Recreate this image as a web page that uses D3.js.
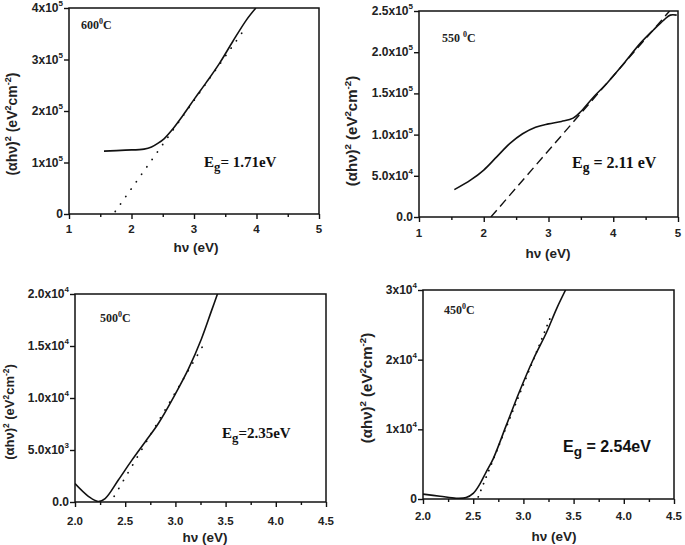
<!DOCTYPE html>
<html><head><meta charset="utf-8">
<script src="https://cdn.jsdelivr.net/npm/d3@7"></script>
<style>body{margin:0;background:#fff}svg{display:block}</style>
</head><body>
<svg id="c" width="685" height="545"></svg>
<script>
// ---- data ----
const p600X = [1.56, 1.9, 2.2, 2.32, 2.42, 2.52, 2.64, 2.82, 3.01, 3.20, 3.41, 3.62, 3.84, 3.99];
const p600Y = [1.22e5, 1.24e5, 1.26e5, 1.30e5, 1.37e5, 1.46e5, 1.62e5, 1.91e5, 2.24e5, 2.56e5, 2.93e5, 3.35e5, 3.77e5, 4.0e5];
const p600FitX = [1.74, 3.81];
const p600FitY = [0.05e5, 3.59e5];

const p550X = [1.546, 1.8, 2.0, 2.2, 2.4, 2.6, 2.8, 3.0, 3.2, 3.38, 3.5, 3.7, 3.9, 4.16, 4.42, 4.62, 4.78, 4.88, 4.98];
const p550Y = [3.32e4, 4.5e4, 5.7e4, 7.3e4, 8.9e4, 10.1e4, 10.9e4, 11.3e4, 11.6e4, 12.0e4, 12.8e4, 14.6e4, 16.2e4, 18.6e4, 21.1e4, 22.7e4, 23.9e4, 24.5e4, 24.5e4];
const p550FitX = [2.11, 4.87];
const p550FitY = [0, 2.5e5];

const p500X = [2.0, 2.133, 2.23, 2.30, 2.43, 2.565, 2.70, 2.83, 3.0, 3.13, 3.26, 3.36, 3.43];
const p500Y = [1.77e3, 0.55e3, 0.05e3, 0.33e3, 2.09e3, 4.0e3, 5.8e3, 7.55e3, 1.04e4, 1.28e4, 1.57e4, 1.84e4, 2.03e4];
const p500FitX = [2.39, 3.31];
const p500FitY = [0.55e3, 1.56e4];

const p450X = [2.0, 2.17, 2.33, 2.43, 2.50, 2.56, 2.63, 2.70, 2.83, 2.96, 3.10, 3.23, 3.33, 3.42];
const p450Y = [0.07e4, 0.04e4, 0.01e4, 0.02e4, 0.08e4, 0.2e4, 0.39e4, 0.58e4, 1.06e4, 1.54e4, 2.01e4, 2.39e4, 2.73e4, 3.0e4];
const p450FitX = [2.55, 3.27];
const p450FitY = [0.03e4, 2.61e4];

// tick values and labels
const xMajorA = [1, 2, 3, 4, 5];
const xMinorA = [1.5, 2.5, 3.5, 4.5];
const xLabelsA = ["1", "2", "3", "4", "5"];
const xMajorB = [2.0, 2.5, 3.0, 3.5, 4.0, 4.5];
const xMinorB = [2.25, 2.75, 3.25, 3.75, 4.25];
const xLabelsB = ["2.0", "2.5", "3.0", "3.5", "4.0", "4.5"];

const y600Ticks = [0, 1e5, 2e5, 3e5, 4e5];
const y600Labels = [["0", ""], ["1x10", "5"], ["2x10", "5"], ["3x10", "5"], ["4x10", "5"]];
const y550Ticks = [0, 5e4, 1e5, 1.5e5, 2e5, 2.5e5];
const y550Labels = [["0.0", ""], ["5.0x10", "4"], ["1.0x10", "5"], ["1.5x10", "5"], ["2.0x10", "5"], ["2.5x10", "5"]];
const y500Ticks = [0, 5e3, 1e4, 1.5e4, 2e4];
const y500Labels = [["0.0", ""], ["5.0x10", "3"], ["1.0x10", "4"], ["1.5x10", "4"], ["2.0x10", "4"]];
const y450Ticks = [0, 1e4, 2e4, 3e4];
const y450Labels = [["0", ""], ["1x10", "4"], ["2x10", "4"], ["3x10", "4"]];

const temps = ["600", "550 ", "500", "450"];
const gaps = ["= 1.71eV", " = 2.11 eV", "=2.35eV", " = 2.54eV"];

// ---- layout ----
const panels = [
  {L:69, R:319, T:8, B:214, xd:[1,5], yd:[0,4e5], X:p600X, Y:p600Y, fx:p600FitX, fy:p600FitY,
   dash:"0.1,9", xMaj:xMajorA, xMin:xMinorA, xLab:xLabelsA, yT:y600Ticks, yL:y600Labels,
   temp:temps[0], tx:81, ty:29, gap:gaps[0], gx:204, gy:167, gSerif:true, gSize:15,
   xtY:233, xtitle:[196,252], ytitle:[17,124], ySize:14, yW:"bold"},
  {L:419, R:678, T:11, B:217, xd:[1,5], yd:[0,2.5e5], X:p550X, Y:p550Y, fx:p550FitX, fy:p550FitY,
   dash:"9,5", xMaj:xMajorA, xMin:xMinorA, xLab:xLabelsA, yT:y550Ticks, yL:y550Labels,
   temp:temps[1], tx:442, ty:42, gap:gaps[1], gx:572, gy:168, gSerif:true, gSize:16,
   xtY:237, xtitle:[548,258], ytitle:[357,131], ySize:15, yW:"bold"},
  {L:75, R:326, T:294, B:502, xd:[2,4.5], yd:[0,2e4], X:p500X, Y:p500Y, fx:p500FitX, fy:p500FitY,
   dash:"0.1,9", xMaj:xMajorB, xMin:xMinorB, xLab:xLabelsB, yT:y500Ticks, yL:y500Labels,
   temp:temps[2], tx:100, ty:322, gap:gaps[2], gx:222, gy:438, gSerif:true, gSize:15,
   xtY:525, xtitle:[205,542], ytitle:[14,412], ySize:13, yW:"600"},
  {L:423, R:674, T:290, B:499, xd:[2,4.5], yd:[0,3e4], X:p450X, Y:p450Y, fx:p450FitX, fy:p450FitY,
   dash:"0.1,7", xMaj:xMajorB, xMin:xMinorB, xLab:xLabelsB, yT:y450Ticks, yL:y450Labels,
   temp:temps[3], tx:444, ty:314, gap:gaps[3], gx:563, gy:452, gSerif:false, gSize:16,
   xtY:520, xtitle:[554,541], ytitle:[372,388], ySize:15, yW:"bold"}
];

const svg = d3.select("#c");
const sans = "'Liberation Sans', Arial, sans-serif";
const serif = "'Liberation Serif', 'Times New Roman', serif";

panels.forEach((p, i) => {
  const x = d3.scaleLinear().domain(p.xd).range([p.L, p.R]);
  const y = d3.scaleLinear().domain(p.yd).range([p.B, p.T]);
  const g = svg.append("g");

  const clipId = "clip" + i;
  svg.append("clipPath").attr("id", clipId).append("rect")
    .attr("x", p.L).attr("y", p.T).attr("width", p.R - p.L).attr("height", p.B - p.T);

  // fit line
  g.append("path")
    .datum(p.fx.map((v, k) => [v, p.fy[k]]))
    .attr("clip-path", `url(#${clipId})`)
    .attr("d", d3.line().x(d => x(d[0])).y(d => y(d[1])))
    .attr("fill", "none").attr("stroke", "#111")
    .attr("stroke-width", i === 1 ? 1.4 : 1.8)
    .attr("stroke-linecap", i === 1 ? "butt" : "round")
    .attr("stroke-dasharray", p.dash);

  // data curve
  g.append("path")
    .datum(p.X.map((v, k) => [v, p.Y[k]]))
    .attr("clip-path", `url(#${clipId})`)
    .attr("d", d3.line().curve(d3.curveCatmullRom.alpha(0.5)).x(d => x(d[0])).y(d => y(d[1])))
    .attr("fill", "none").attr("stroke", "#111").attr("stroke-width", 1.6);

  // frame
  g.append("rect").attr("x", p.L).attr("y", p.T).attr("width", p.R - p.L).attr("height", p.B - p.T)
    .attr("fill", "none").attr("stroke", "#111").attr("stroke-width", 1.5);

  // axes ticks
  const ax = g.append("g").attr("transform", `translate(0,${p.B})`)
    .call(d3.axisBottom(x).tickValues(p.xMaj).tickSize(5).tickFormat(""));
  const axm = g.append("g").attr("transform", `translate(0,${p.B})`)
    .call(d3.axisBottom(x).tickValues(p.xMin).tickSize(3).tickFormat(""));
  const ay = g.append("g").attr("transform", `translate(${p.L},0)`)
    .call(d3.axisLeft(y).tickValues(p.yT).tickSize(5).tickFormat(""));
  [ax, axm, ay].forEach(a => {
    a.select(".domain").remove();
    a.selectAll("line").attr("stroke", "#111").attr("stroke-width", 1.4);
  });

  // x tick labels
  g.selectAll(null).data(p.xMaj).enter().append("text")
    .attr("x", d => x(d)).attr("y", p.xtY)
    .attr("text-anchor", "middle").attr("font-family", sans).attr("font-weight", "bold")
    .attr("font-size", 11.5).attr("fill", "#222")
    .text((d, k) => p.xLab[k]);

  // y tick labels
  p.yT.forEach((v, k) => {
    const t = g.append("text").attr("x", p.L - 6).attr("y", y(v) + 4)
      .attr("text-anchor", "end").attr("font-family", sans).attr("font-weight", "bold")
      .attr("font-size", 12).attr("fill", "#222");
    t.append("tspan").text(p.yL[k][0]);
    if (p.yL[k][1]) t.append("tspan").attr("dy", -6).attr("font-size", 8).text(p.yL[k][1]);
  });

  // axis titles
  g.append("text").attr("x", p.xtitle[0]).attr("y", p.xtitle[1])
    .attr("text-anchor", "middle").attr("font-family", sans).attr("font-weight", "bold")
    .attr("font-size", 13.5).attr("fill", "#222").text("hν (eV)");

  const yt = g.append("text")
    .attr("transform", `translate(${p.ytitle[0]},${p.ytitle[1]}) rotate(-90)`)
    .attr("text-anchor", "middle").attr("font-family", sans).attr("font-weight", p.yW)
    .attr("font-size", p.ySize).attr("fill", "#222");
  const ss = p.ySize * 0.65, up = -p.ySize * 0.4;
  yt.append("tspan").text("(αhν)");
  yt.append("tspan").attr("dy", up).attr("font-size", ss).text("2");
  yt.append("tspan").attr("dy", -up).text(" (eV");
  yt.append("tspan").attr("dy", up).attr("font-size", ss).text("2");
  yt.append("tspan").attr("dy", -up).text("cm");
  yt.append("tspan").attr("dy", up).attr("font-size", ss).text("-2");
  yt.append("tspan").attr("dy", -up).text(")");

  // temperature label
  const tt = g.append("text").attr("x", p.tx).attr("y", p.ty)
    .attr("font-family", serif).attr("font-weight", "bold").attr("font-size", 12).attr("fill", "#222");
  tt.append("tspan").text(p.temp);
  tt.append("tspan").attr("dy", -5).attr("font-size", 8).text("0");
  tt.append("tspan").attr("dy", 5).text("C");

  // band gap label
  const gt = g.append("text").attr("x", p.gx).attr("y", p.gy)
    .attr("font-family", p.gSerif ? serif : sans).attr("font-weight", "bold")
    .attr("font-size", p.gSize).attr("fill", "#111");
  gt.append("tspan").text("E");
  gt.append("tspan").attr("dy", 4).attr("font-size", p.gSize * 0.85).text("g");
  gt.append("tspan").attr("dy", -4).text(p.gap);
});
</script>
</body></html>
